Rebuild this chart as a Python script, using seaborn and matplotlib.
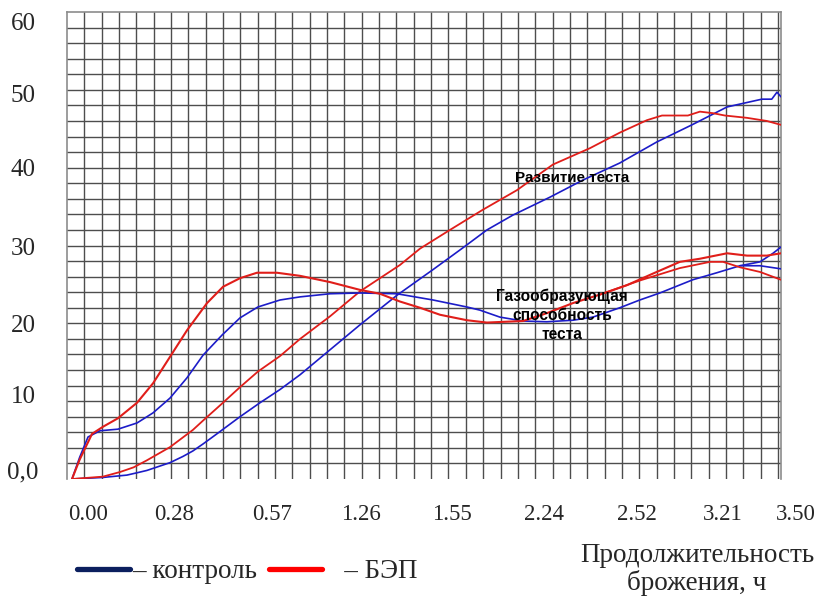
import numpy as np
import pandas as pd
import matplotlib
matplotlib.use("Agg")
import matplotlib.pyplot as plt
import matplotlib.transforms as mtransforms
from matplotlib.ticker import FixedLocator
from matplotlib.lines import Line2D
import seaborn as sns

# ---------------- data (time in minutes, value in relative units) ----------------
# Gas-forming ability, control (main trace and its end branch)
t_gas_ctrl = [0, 2.5, 5.2, 9.1, 14.9, 21.1, 26.3, 31.8, 37.3, 42.5, 48.7, 54.5, 60.3, 67.5, 74,
              83.7, 93.4, 105.4, 117.1, 128.1, 132.3, 138.8, 146.3, 154, 162.5, 169, 177.7,
              184.2, 190.7, 201.4, 209.2, 216.7, 223.2, 227.4, 230]
v_gas_ctrl = [0, 2.8, 5.4, 6.2, 6.4, 7.2, 8.5, 10.4, 13.0, 15.9, 18.5, 20.7, 22.1, 23.0, 23.4,
              23.8, 23.9, 23.8, 23.0, 22.1, 21.7, 20.8, 20.3, 20.2, 20.4, 20.8, 22.0,
              23.0, 23.9, 25.6, 26.5, 27.4, 27.9, 29.0, 29.8]
t_gas_ctrl_b = [216.7, 223.2, 230]
v_gas_ctrl_b = [27.4, 27.4, 27.0]

# Gas-forming ability, BEP (main trace and its end branch)
t_gas_bep = [0, 2.5, 6.5, 10, 14.9, 21.1, 26.3, 31.8, 37.3, 43.8, 49, 54.5, 60, 66.5, 74,
             83.7, 93.4, 99.9, 106.4, 112.9, 119.4, 128.1, 134.6, 146.3, 154, 162.5, 171.3,
             180, 188.5, 197.2, 203.7, 212.5, 219, 225.4, 230]
v_gas_bep = [0, 2.5, 5.8, 6.7, 7.8, 9.8, 12.3, 15.7, 19.1, 22.6, 24.7, 25.8, 26.5, 26.5, 26.1,
             25.3, 24.3, 23.8, 22.8, 22.0, 21.1, 20.4, 20.1, 20.3, 21.3, 22.6, 23.7,
             24.9, 26.4, 27.9, 28.3, 29.0, 28.7, 28.7, 29.0]
t_gas_bep_b = [171.3, 184.2, 197.2, 207, 211.2, 216.7, 223.2, 230]
v_gas_bep_b = [23.7, 25.5, 27.1, 27.9, 27.9, 27.2, 26.6, 25.6]

# Dough development, control
t_dough_ctrl = [0, 10, 17.8, 21.1, 24.3, 31.8, 36, 39.2, 42.5, 47, 54.5, 61, 67.5, 74, 83.7, 93.4,
                105.4, 117.1, 126.8, 134.6, 143, 155, 165.7, 177.7, 189.7, 201.1, 212.5,
                223.8, 227, 228.7, 230]
v_dough_ctrl = [0, 0.2, 0.5, 0.8, 1.1, 2.1, 2.9, 3.6, 4.5, 5.8, 8.0, 9.8, 11.5, 13.4, 16.6, 19.8,
                23.6, 26.9, 29.7, 32.0, 33.9, 36.2, 38.4, 40.6, 43.3, 45.5, 47.8,
                48.8, 48.8, 49.7, 49.1]

# Dough development, BEP
t_dough_bep = [0, 10, 15.6, 20, 24.3, 31.8, 39.2, 42.5, 48.7, 54.5, 60.3, 67.5, 74, 83.7, 93.4,
               106.4, 112.9, 122.6, 133.3, 144.3, 156, 168, 177.7, 186.5, 191.4, 199.8,
               203.7, 207.9, 211.8, 219, 225.4, 230]
v_dough_bep = [0, 0.3, 0.9, 1.5, 2.4, 4.1, 6.3, 7.5, 9.7, 11.8, 13.8, 15.8, 18.0, 20.9, 24.1,
               27.5, 29.6, 32.0, 34.6, 37.1, 40.4, 42.5, 44.5, 46.1, 46.7, 46.7,
               47.2, 47.0, 46.7, 46.4, 46.0, 45.5]

x_tick_minutes = [0, 28, 57, 86, 115, 144, 172, 201, 230]
x_tick_labels = ["0.00", "0.28", "0.57", "1.26", "1.55", "2.24", "2.52", "3.21", "3.50"]
y_tick_values = [0, 10, 20, 30, 40, 50, 60]
y_tick_labels = ["0,0", "10", "20", "30", "40", "50", "60"]

legend_labels = ["\u2013 контроль", "   \u2013 БЭП"]
x_title = "Продолжительность\nброжения, ч"
note_dough = "Развитие теста"
note_gas = "Газообразующая\nспособность\nтеста"

# ---------------- style ----------------
sns.set_style("white")
plt.rcParams["font.family"] = ["Liberation Serif", "DejaVu Serif"]

BLUE = "#1c1cc8"
RED = "#e01e1a"
GRID = "#4d4d4d"
FRAME = "#8c8c8c"

W, H = 818, 600
fig = plt.figure(figsize=(W / 100, H / 100), dpi=100)
ax = fig.add_axes([67 / W, 121 / H, 714 / W, 467 / H])

xmin, xmax = -1.62, 230.0
ax.set_xlim(xmin, xmax)
ax.set_ylim(0, 60)

# ---------------- curves ----------------
series = [
    (t_dough_ctrl, v_dough_ctrl, BLUE, 1.2),
    (t_dough_bep, v_dough_bep, RED, 1.3),
    (t_gas_ctrl, v_gas_ctrl, BLUE, 1.2),
    (t_gas_ctrl_b, v_gas_ctrl_b, BLUE, 1.2),
    (t_gas_bep, v_gas_bep, RED, 1.5),
    (t_gas_bep_b, v_gas_bep_b, RED, 1.3),
]
for t, v, c, lw in series:
    df = pd.DataFrame({"t": t, "v": v})
    sns.lineplot(data=df, x="t", y="v", color=c, linewidth=lw, ax=ax,
                 estimator=None, sort=False, zorder=3)

# ---------------- grid ----------------
step_x = 17.34 / ((714) / (xmax - xmin))
ax.xaxis.set_minor_locator(FixedLocator([xmin + k * step_x for k in range(1, 42)]))
ax.yaxis.set_minor_locator(FixedLocator(list(np.arange(2, 60, 2))))
ax.xaxis.remove_overlapping_locs = False
ax.yaxis.remove_overlapping_locs = False
ax.grid(False, which="major")
ax.grid(True, which="minor", color=GRID, linewidth=1.0)
ax.tick_params(which="minor", length=0)

for side in ["left", "top", "right"]:
    ax.spines[side].set_visible(True)
    ax.spines[side].set_color(FRAME)
    ax.spines[side].set_linewidth(1.2)
ax.spines["bottom"].set_visible(False)

# ---------------- ticks ----------------
ax.set_xticks(x_tick_minutes)
ax.set_xticklabels(x_tick_labels, fontsize=16.5)
ax.tick_params(axis="x", which="major", length=0, pad=18)

ax.set_yticks(y_tick_values)
ax.set_yticklabels(y_tick_labels, fontsize=18)
ax.tick_params(axis="y", which="major", length=2.2, width=1.0, color=FRAME, pad=29.5)
for lab in ax.get_yticklabels():
    lab.set_horizontalalignment("center")

x_label_shift_px = [16, 15.7, 24.3, 23.9, 25.5, 28, 34.7, 31.3, 15]
for lab, dx in zip(ax.get_xticklabels(), x_label_shift_px):
    lab.set_transform(lab.get_transform() +
                      mtransforms.ScaledTranslation(dx / 100, 0, fig.dpi_scale_trans))
y_label_shift_px = [9, 7, 0, -1, 0, -4, -10]
for lab, dy in zip(ax.get_yticklabels(), y_label_shift_px):
    lab.set_transform(lab.get_transform() +
                      mtransforms.ScaledTranslation(0, dy / 100, fig.dpi_scale_trans))

ax.set_xlabel(x_title, fontsize=19.5, linespacing=1.12, multialignment="center")
ax.xaxis.set_label_coords((697 - 67) / 714, (479 - 543) / 467)
ax.set_ylabel("")

# ---------------- annotations ----------------
ax.text(162.2, 38.7, note_dough, ha="center", va="center", fontsize=11,
        fontweight="bold", family=["Liberation Sans", "DejaVu Sans"], color="black", zorder=4)
ax.text(158.9, 21.0, note_gas, ha="center", va="center", fontsize=11.2,
        fontweight="bold", family=["Liberation Sans", "DejaVu Sans"], color="black",
        linespacing=1.35, zorder=4)

# ---------------- legend ----------------
handles = [Line2D([], [], color="#0b1f5e", linewidth=3.8),
           Line2D([], [], color="#ff0000", linewidth=3.8)]
fig.legend(handles, legend_labels, loc="center left",
           bbox_to_anchor=(77 / W, 1 - 572 / H), ncol=2, frameon=False,
           fontsize=19.5, handlelength=1.96, handletextpad=0.08,
           columnspacing=0.44, borderpad=0, borderaxespad=0)

fig.savefig("out.png", dpi=100)
